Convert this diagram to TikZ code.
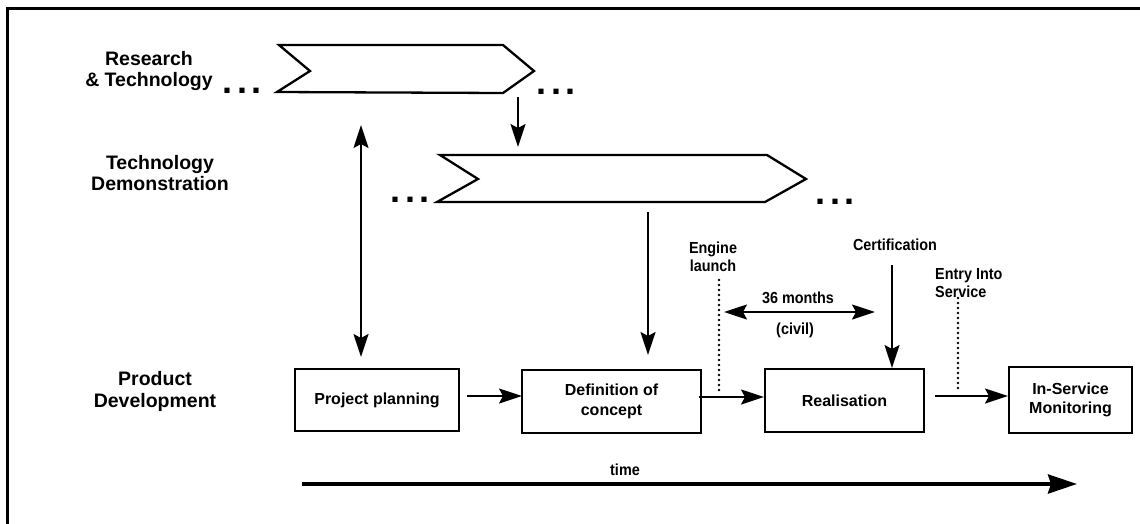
\documentclass[tikz,border=0pt]{standalone}
\usepackage{fontspec}
\setmainfont{Liberation Sans}
\newfontfamily\narrowfont{Liberation Sans}[FakeStretch=0.9]
\usetikzlibrary{arrows.meta}
\newcommand\myddd{.\hspace{4.5pt}.\hspace{4.5pt}.}
\begin{document}
\begin{tikzpicture}[x=1pt,y=-1pt,
  big/.style={font=\fontsize{19.5}{21.5}\selectfont\bfseries, align=center, inner sep=0pt},
  small/.style={font=\narrowfont\fontsize{16}{18}\selectfont\bfseries, inner sep=0pt},
  dotsym/.style={font=\fontsize{36}{36}\selectfont\bfseries, inner sep=0pt, anchor=base west},
  stagebox/.style={draw, line width=2.5pt, inner sep=0pt, align=center,
    font=\fontsize{16}{19.5}\selectfont\bfseries},
  chevron/.style={draw, line width=2.3pt, line join=miter},
  arr/.style={line width=1.8pt, -{Stealth[length=23pt,width=15pt,inset=4pt]}},
  darr/.style={line width=1.8pt, {Stealth[length=23pt,width=15pt,inset=4pt]}-{Stealth[length=23pt,width=15pt,inset=4pt]}},
  milestone/.style={line width=2.6pt, line cap=round, dash pattern=on 0pt off 5pt},
  timearr/.style={line width=4pt, -{Stealth[length=29pt,width=19pt,inset=3pt]}}
]
\clip (0,0) rectangle (1140,523);
\fill[white] (0,0) rectangle (1140,523);
% frame
\draw[line width=2.5pt] (7.5,8.5) rectangle (1160,560);

% row labels
\node[big] (lrt) at (149,71) {Research\\\& Technology};
\node[big] (ltd) at (160,173) {Technology\\Demonstration};
\node[big] (lpd) at (155,391.5) {Product\\Development};

% chevrons
\draw[chevron] (279,45) -- (503,45) -- (534,71) -- (503,93) -- (277,92) -- (310,71) -- cycle;
\draw[chevron] (440,155) -- (767,155) -- (806,179) -- (765,202) -- (437,202) -- (478,179) -- cycle;

% ellipses
\node[dotsym] (d1) at (222.5,93) {\myddd};
\node[dotsym] (d2) at (536.5,94) {\myddd};
\node[dotsym] (d3) at (390.5,202) {\myddd};
\node[dotsym] (d4) at (815.5,204) {\myddd};

% boxes
\node[stagebox, minimum width=164pt, minimum height=62pt] (pp) at (377,400) {Project planning};
\node[stagebox, minimum width=179pt, minimum height=63pt] (def) at (611.5,401.5) {Definition of\\concept};
\node[stagebox, minimum width=159pt, minimum height=63pt] (real) at (844.5,400.5) {Realisation};
\node[stagebox, minimum width=123pt, minimum height=66pt] (ism) at (1070.5,400) {In-Service\\Monitoring};

% coordinates
\coordinate (rtb) at (518,97);
\coordinate (tdt) at (518,147);
\coordinate (up1) at (361,125);
\coordinate (up2) at (361,357);
\coordinate (tdb) at (648,212);
\coordinate (deft) at (648,355);
\coordinate (pe) at (467,396);
\coordinate (dw) at (522,396);
\coordinate (de) at (699,397);
\coordinate (rw) at (764,397);
\coordinate (re) at (935,396);
\coordinate (iw) at (1008,396);
\coordinate (ct) at (892,265);
\coordinate (cb) at (892,368);
\coordinate (el1) at (719,280);
\coordinate (el2) at (719,393);
\coordinate (es1) at (958,298);
\coordinate (es2) at (958,391);
\coordinate (m1) at (724,312);
\coordinate (m2) at (875,312);
\coordinate (t1) at (302,484);
\coordinate (t2) at (1077,484);

% connectors
\draw[arr] (rtb) -- (tdt);
\draw[darr] (up1) -- (up2);
\draw[arr] (tdb) -- (deft);
\draw[arr] (pe) -- (dw);
\draw[arr] (de) -- (rw);
\draw[arr] (re) -- (iw);
\draw[arr] (ct) -- (cb);
\draw[milestone] (el1) -- (el2);
\draw[milestone] (es1) -- (es2);
\draw[darr] (m1) -- (m2);
\draw[timearr] (t1) -- (t2);

% small labels
\node[small, align=center] (eng) at (713,257) {Engine\\launch};
\node[small] (cert) at (895,245) {Certification};
\node[small] (mon) at (798,298) {36 months};
\node[small] (civ) at (795,330) {(civil)};
\node[small, align=left, anchor=west] (eis) at (935,283) {Entry Into\\Service};
\node[small] (time) at (625,470) {time};
\end{tikzpicture}
\end{document}
